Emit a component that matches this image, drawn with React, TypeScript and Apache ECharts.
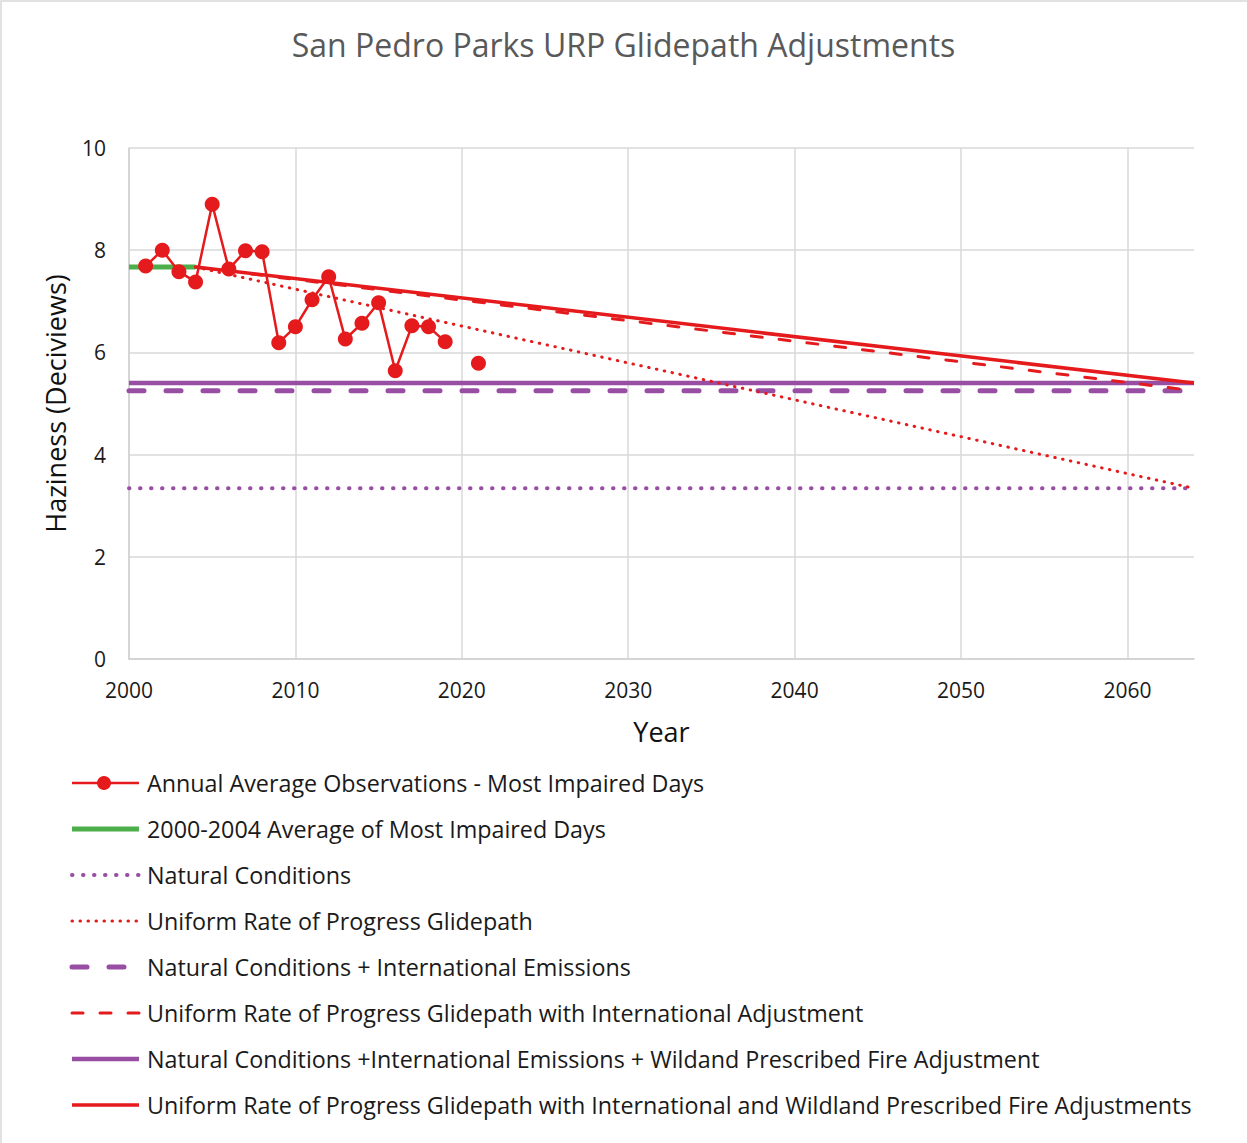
import React, { useEffect, useRef } from "react";
import * as echarts from "echarts";

const TITLE = "San Pedro Parks URP Glidepath Adjustments";
const X_NAME = "Year";
const Y_NAME = "Haziness (Deciviews)";
const X_TICKS = [2000, 2010, 2020, 2030, 2040, 2050, 2060];

const obsYears = [2001, 2002, 2003, 2004, 2005, 2006, 2007, 2008, 2009, 2010, 2011, 2012, 2013, 2014, 2015, 2016, 2017, 2018, 2019, 2020, 2021];
const obsValues = [7.69, 8.0, 7.58, 7.38, 8.9, 7.63, 7.99, 7.97, 6.19, 6.5, 7.03, 7.48, 6.26, 6.57, 6.97, 5.64, 6.52, 6.5, 6.21, null, 5.79];

const baselineYears = [2000, 2004];
const baselineValues = [7.67, 7.67];

const flatYears = [2000, 2064];
const naturalValues = [3.34, 3.34];
const naturalIntlValues = [5.25, 5.25];
const naturalIntlFireValues = [5.4, 5.4];

const glideYears = [2004, 2064];
const urpValues = [7.67, 3.34];
const urpIntlValues = [7.67, 5.25];
const urpIntlFireValues = [7.67, 5.4];

const SERIES_NAMES = [
  "Annual Average Observations - Most Impaired Days",
  "2000-2004 Average of Most Impaired Days",
  "Natural Conditions",
  "Uniform Rate of Progress Glidepath",
  "Natural Conditions + International Emissions",
  "Uniform Rate of Progress Glidepath with International Adjustment",
  "Natural Conditions +International Emissions + Wildand Prescribed Fire Adjustment",
  "Uniform Rate of Progress Glidepath with International and Wildland Prescribed Fire Adjustments",
];

const RED = "#e41a1c";
const GREEN = "#4daf4a";
const PURPLE = "#984ea3";
const FONT = "'Open Sans', sans-serif";

const pairs = (xs: number[], ys: (number | null)[]) => xs.map((x, i) => [x, ys[i]]);

type LS = { color: string; width: number; type: any; cap?: string };
const STYLES: LS[] = [
  { color: RED, width: 2.5, type: "solid" },
  { color: GREEN, width: 5, type: "solid" },
  { color: PURPLE, width: 4, type: [0.5, 10.5], cap: "round" },
  { color: RED, width: 3, type: [0.5, 7.5], cap: "round" },
  { color: PURPLE, width: 5, type: [15, 22], cap: "round" },
  { color: RED, width: 3, type: [11, 17], cap: "round" },
  { color: PURPLE, width: 4.5, type: "solid" },
  { color: RED, width: 3.5, type: "solid" },
];

export default function App() {
  const ref = useRef<HTMLDivElement>(null);
  useEffect(() => {
    if (!ref.current) return;
    const chart = echarts.init(ref.current, null, { renderer: "svg" });
    const datasets = [
      pairs(obsYears, obsValues),
      pairs(baselineYears, baselineValues),
      pairs(flatYears, naturalValues),
      pairs(glideYears, urpValues),
      pairs(flatYears, naturalIntlValues),
      pairs(glideYears, urpIntlValues),
      pairs(flatYears, naturalIntlFireValues),
      pairs(glideYears, urpIntlFireValues),
    ];
    const zOrder = [10, 3, 2, 4, 2, 5, 3, 6];
    const series = SERIES_NAMES.map((name, i) => ({
      type: "line",
      name,
      data: datasets[i],
      z: zOrder[i],
      connectNulls: false,
      symbol: i === 0 ? "circle" : "none",
      symbolSize: 15,
      showSymbol: i === 0,
      itemStyle: { color: STYLES[i].color },
      lineStyle: {
        color: STYLES[i].color,
        width: STYLES[i].width,
        type: STYLES[i].type,
        cap: STYLES[i].cap || "butt",
      },
      emphasis: { disabled: true },
    }));

    const legendGraphics: any[] = [];
    SERIES_NAMES.forEach((name, i) => {
      const y = 783 + i * 46;
      const s = STYLES[i];
      let x2 = 139;
      if (i === 4) x2 = 127;
      legendGraphics.push({
        type: "line",
        shape: { x1: 72, y1: y, x2, y2: y },
        style: { stroke: s.color, lineWidth: s.width, lineDash: Array.isArray(s.type) ? s.type : null, lineCap: s.cap || "butt" },
      });
      if (i === 0) {
        legendGraphics.push({ type: "circle", shape: { cx: 104, cy: y, r: 7 }, style: { fill: RED } });
      }
      legendGraphics.push({
        type: "text",
        x: 147,
        y,
        style: { text: name, fill: "#1a1a1a", font: `23.3px ${FONT}`, textVerticalAlign: "middle", textAlign: "left" },
      });
    });

    chart.setOption({
      animation: false,
      backgroundColor: "#ffffff",
      title: {
        text: TITLE,
        left: "center",
        top: 23,
        textStyle: { color: "#595959", fontSize: 32, fontWeight: "normal", fontFamily: FONT },
      },
      grid: { left: 129, right: 53, top: 148, bottom: 484, containLabel: false },
      xAxis: {
        type: "value",
        min: 2000,
        max: 2064,
        interval: 10,
        name: X_NAME,
        nameLocation: "middle",
        nameGap: 59,
        nameTextStyle: { fontSize: 27, color: "#111", fontFamily: FONT },
        axisLine: { show: true, lineStyle: { color: "#d0d0d0", width: 1.5 } },
        axisTick: { show: false, customValues: X_TICKS },
        axisLabel: { customValues: X_TICKS, margin: 20, fontSize: 21, color: "#1a1a1a", fontFamily: FONT, formatter: (v: number) => String(v) },
        splitLine: { show: true, lineStyle: { color: "#d9d9d9", width: 1.5 } },
      },
      yAxis: {
        type: "value",
        min: 0,
        max: 10,
        interval: 2,
        name: Y_NAME,
        nameLocation: "middle",
        nameGap: 60,
        nameTextStyle: { fontSize: 27, color: "#111", fontFamily: FONT },
        axisLine: { show: true, lineStyle: { color: "#d0d0d0", width: 1.5 } },
        axisTick: { show: false },
        axisLabel: { margin: 23, fontSize: 21, color: "#1a1a1a", fontFamily: FONT },
        splitLine: { show: true, lineStyle: { color: "#d9d9d9", width: 1.5 } },
      },
      series,
      graphic: [
        {
          type: "rect",
          shape: { x: 1, y: 1, width: 1270, height: 1170 },
          style: { fill: "none", stroke: "#d9d9d9", lineWidth: 1.5 },
          silent: true,
        },
        ...legendGraphics,
      ],
    });
    return () => chart.dispose();
  }, []);
  return <div ref={ref} style={{ position: "absolute", left: 0, top: 0, width: 1247, height: 1143 }} />;
}
